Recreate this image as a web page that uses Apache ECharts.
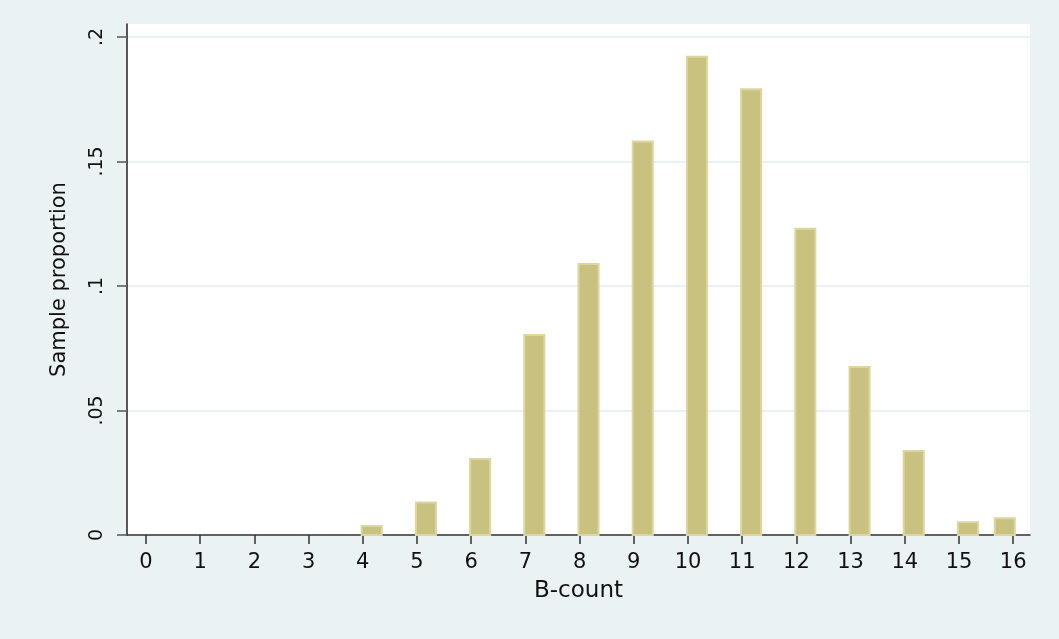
<!DOCTYPE html>
<html lang="en">
<head>
    <meta charset="UTF-8">
    <title>B-count histogram</title>
    <style>
        html, body { margin: 0; padding: 0; background: #eaf2f3; }
        #app { width: 1059px; height: 639px; }
    </style>
</head>
<body>
    <div id="app"></div>
    <script src="https://cdn.jsdelivr.net/npm/echarts@6/dist/echarts.min.js"></script>
    <script>
        // B-count values and their sample proportions
        var counts = [0, 1, 2, 3, 4, 5, 6, 7, 8, 9, 10, 11, 12, 13, 14, 15, 16]
        var proportions = [0, 0, 0, 0, 0.0036, 0.0131, 0.0305, 0.0803, 0.1088, 0.158,
            0.192, 0.179, 0.123, 0.0675, 0.0337, 0.0051, 0.0067]
        var yTicks = [0, 0.05, 0.1, 0.15, 0.2]
        var yTickLabels = ['0', '.05', '.1', '.15', '.2']

        var barWidth = 0.37   // in x units
        var lastCount = counts[counts.length - 1]

        var chart = echarts.init(document.getElementById('app'))

        var option = {
            backgroundColor: '#eaf2f3',
            textStyle: { fontFamily: 'DejaVu Sans, Liberation Sans, sans-serif' },
            grid: {
                left: 127, top: 24, right: 29, bottom: 104,
                show: true, backgroundColor: '#ffffff', borderWidth: 0
            },
            xAxis: {
                type: 'value',
                min: -0.35,
                max: 16.31,
                name: 'B-count',
                nameLocation: 'middle',
                nameGap: 45,
                nameTextStyle: { fontSize: 23, color: '#111' },
                axisLine: { lineStyle: { color: '#333', width: 1.5 } },
                axisTick: { customValues: counts, length: 9, lineStyle: { color: '#333', width: 1.5 } },
                axisLabel: { customValues: counts, margin: 17, fontSize: 21, color: '#111' },
                splitLine: { show: false }
            },
            yAxis: {
                type: 'value',
                min: 0,
                max: 0.2052,
                name: 'Sample proportion',
                nameLocation: 'middle',
                nameGap: 57,
                nameRotate: 90,
                nameTextStyle: { fontSize: 21, color: '#111' },
                axisLine: { show: true, onZero: false, lineStyle: { color: '#222', width: 1.5 } },
                axisTick: { show: true, customValues: yTicks, length: 10, lineStyle: { color: '#555', width: 1.5 } },
                axisLabel: {
                    customValues: yTicks,
                    rotate: 90,
                    margin: 20,
                    fontSize: 19,
                    color: '#111',
                    formatter: function (v) {
                        var i = yTicks.indexOf(v)
                        return i >= 0 ? yTickLabels[i] : ''
                    }
                },
                splitLine: { show: true, lineStyle: { color: '#e6eef0', width: 1.5 } }
            },
            series: [{
                type: 'custom',
                data: counts.map(function (c, i) { return [c, proportions[i]] }),
                renderItem: function (params, api) {
                    var k = api.value(0)
                    var v = api.value(1)
                    if (!v) return
                    // bars start at the count, the last one ends at it
                    var left = k < lastCount ? k - 0.02 : k - barWidth + 0.03
                    var p0 = api.coord([left, v])
                    var p1 = api.coord([left + barWidth, 0])
                    return {
                        type: 'rect',
                        shape: { x: p0[0], y: p0[1], width: p1[0] - p0[0], height: p1[1] - p0[1] },
                        style: { fill: '#c9c17f', stroke: '#dcd6a2', lineWidth: 2 }
                    }
                },
                z: 1
            }]
        }
        chart.setOption(option)
    </script>
</body>
</html>
